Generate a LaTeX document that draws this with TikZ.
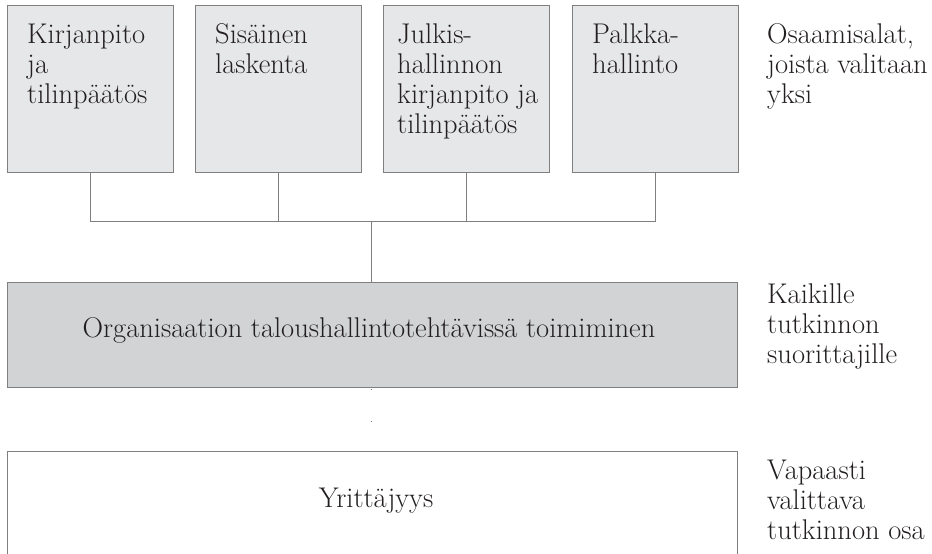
\documentclass[tikz,border=0pt]{standalone}
\definecolor{lightbox}{HTML}{E6E7E8}
\definecolor{midbox}{HTML}{D1D3D4}
\definecolor{edge}{HTML}{7F7F7F}
\definecolor{ink}{HTML}{231F20}
\begin{document}
\begin{tikzpicture}[x=1pt,y=-1pt,
  every node/.style={font=\fontsize{28.5}{30}\selectfont, text=ink},
  alabox/.style={draw=edge, line width=0.9pt, fill=lightbox, minimum width=166pt, minimum height=167pt, inner sep=0pt},
  osabox/.style={draw=edge, line width=0.9pt, minimum width=730pt, minimum height=105pt, inner sep=0pt},
  boxtext/.style={anchor=base west, align=left, inner sep=0pt},
  yhdys/.style={draw=edge, line width=0.9pt}]
\useasboundingbox (0,0) rectangle (932,554);
\clip (0,0) rectangle (932,554);
% osaamisalat
\node[alabox] (kirja) at (90,88.5) {};
\node[alabox] (sisainen) at (278.5,88.5) {};
\node[alabox] (julkis) at (466.5,88.5) {};
\node[alabox] (palkka) at (655,88.5) {};
% base = last line
\node[boxtext] (kirjat) at (27,103) {Kirjanpito\\ja\\tilinpäätös};
\node[boxtext] (sisainent) at (215,73) {Sisäinen\\laskenta};
\node[boxtext] (julkist) at (397,133) {Julkis-\\hallinnon\\kirjanpito ja\\tilinpäätös};
\node[boxtext] (palkkat) at (592,73) {Palkka-\\hallinto};
\coordinate (haara) at (371,221);
\node[osabox, fill=midbox] (yhteinen) at (372,334.5) {};
\node[anchor=base, inner sep=0pt] (yhteinent) at (369,337) {Organisaation taloushallintotehtävissä toimiminen};
\node[osabox, fill=white] (vapaa) at (372,504) {};
\node[anchor=base, inner sep=0pt] (vapaat) at (376,507) {Yrittäjyys};
\draw[yhdys] (kirja.south) |- (palkka.south |- haara) -- (palkka.south);
\draw[yhdys] (sisainen.south) -- (sisainen.south |- haara);
\draw[yhdys] (julkis.south) -- (julkis.south |- haara);
\draw[yhdys] (haara) -- (yhteinen.north -| haara);
\draw[yhdys, dash pattern=on 0.9pt off 30.5pt] ([yshift=-2pt]yhteinen.south -| haara) -- (vapaa.north -| haara);
% selitteet
\node[boxtext] (ala) at (767,103) {Osaamisalat,\\joista valitaan\\yksi};
\node[boxtext] (kaikki) at (767,363) {Kaikille\\tutkinnon\\suorittajille};
\node[boxtext] (vapaasti) at (767,539) {Vapaasti\\valittava\\tutkinnon osa};
\end{tikzpicture}
\end{document}
